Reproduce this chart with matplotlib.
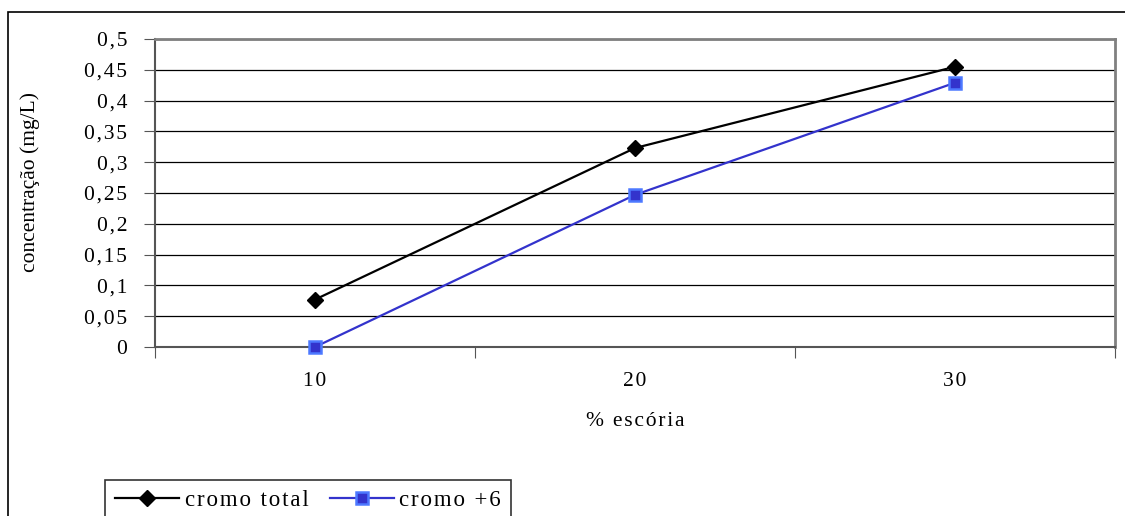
import matplotlib
matplotlib.use("Agg")
from matplotlib import pyplot as plt
from matplotlib.patches import Rectangle

# Data
escoria = ["10", "20", "30"]
cromo_total = [0.077, 0.323, 0.455]
cromo_6 = [0.0, 0.247, 0.429]
y_ticks = [0, 0.05, 0.1, 0.15, 0.2, 0.25, 0.3, 0.35, 0.4, 0.45, 0.5]

plt.rcParams['font.family'] = ['Liberation Serif', 'DejaVu Serif']
plt.rcParams['font.size'] = 15.5


# old Excel-style letter spacing
def spaced(s):
    return "\u200a".join(s)


W, H = 1125, 516
fig = plt.figure(figsize=(W / 100, H / 100), dpi=100)
ax = fig.add_axes([155 / W, 1 - 347 / H, 960 / W, 308 / H])

# outer chart frame (cropped on right and bottom in the reference)
fig.patches.append(Rectangle((8 / W, -0.1), 1.2, 1 - 12 / H + 0.1, transform=fig.transFigure,
                             fill=False, edgecolor="black", linewidth=1.2))

x = list(range(len(escoria)))
ax.plot(x, cromo_total, color="black", linewidth=1.6, marker="D", markersize=8,
        markerfacecolor="black", markeredgecolor="black", label=spaced("cromo total"),
        zorder=3, clip_on=False)
ax.plot(x, cromo_6, color="#3333CC", linewidth=1.6, marker="s", markersize=9,
        markerfacecolor="#3333CC", markeredgecolor="#4D79FF", markeredgewidth=1.8,
        label=spaced("cromo +6"), zorder=3, clip_on=False)

ax.set_xlim(-0.5, len(escoria) - 0.5)
ax.set_ylim(0, 0.5)
ax.set_yticks(y_ticks)
ax.set_yticklabels([spaced(f"{v:g}".replace(".", ",")) for v in y_ticks])
ax.yaxis.grid(True, color="black", linewidth=0.9)
ax.set_axisbelow(True)

ax.set_xticks([i - 0.5 for i in range(len(escoria) + 1)])
ax.set_xticklabels([])
ax.set_xticks(x, minor=True)
ax.set_xticklabels([spaced(c) for c in escoria], minor=True)
ax.tick_params(axis="x", which="major", length=8, direction="out", color="#555555")
ax.tick_params(axis="x", which="minor", length=0, pad=18)
ax.tick_params(axis="y", length=8, direction="out", color="#555555", pad=12)

for side in ["top", "right"]:
    ax.spines[side].set_color("#808080")
    ax.spines[side].set_linewidth(2)
for side in ["left", "bottom"]:
    ax.spines[side].set_color("#555555")
    ax.spines[side].set_linewidth(1.5)

ax.set_xlabel(spaced("% escória"), labelpad=15)
ax.set_ylabel("concentração (mg/L)")
ax.yaxis.set_label_coords(-0.12, 0.535)

leg = fig.legend(loc="upper left", bbox_to_anchor=(105 / W, 1 - 480 / H), ncol=2,
                 frameon=True, fancybox=False, edgecolor="black", handlelength=2.8,
                 columnspacing=0.9, handletextpad=0.25, borderpad=0.45, borderaxespad=0,
                 prop={"size": 16.5})
leg.get_frame().set_linewidth(1.2)

fig.savefig("out.png", dpi=100)
